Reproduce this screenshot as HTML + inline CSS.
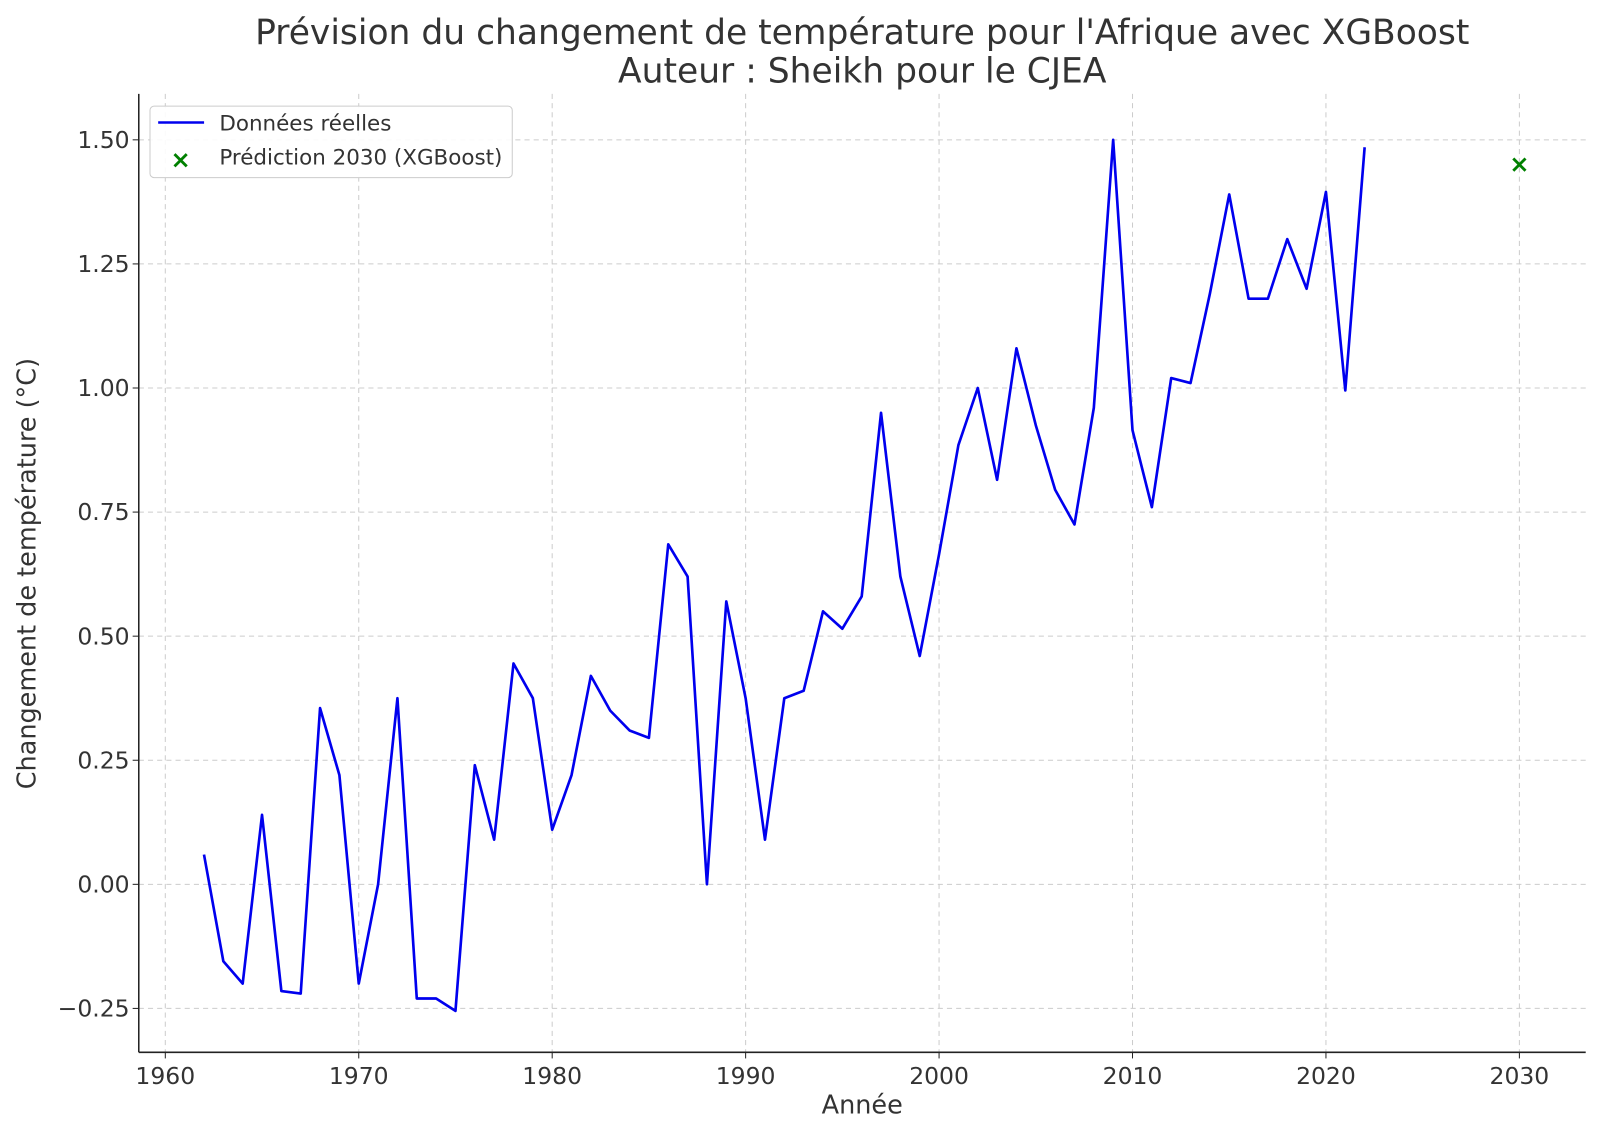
<!DOCTYPE html>
<html><head><meta charset="utf-8"><style>
body{margin:0;background:#fff}
svg{display:block;font-family:"DejaVu Sans","Liberation Sans",sans-serif}
</style></head><body>
<svg id="chart" width="1600" height="1136" viewBox="0 0 1568 1113" preserveAspectRatio="none" xmlns="http://www.w3.org/2000/svg">
<rect width="1568" height="1113" fill="#fff"/>
<text x="845" y="43" text-anchor="middle" font-size="33.8" fill="#333">Prévision du changement de température pour l'Afrique avec XGBoost</text>
<text x="845" y="81" text-anchor="middle" font-size="33.8" fill="#333">Auteur : Sheikh pour le CJEA</text>
<g id="grid"></g>
<g id="ticks"></g>
<line x1="136" y1="1031" x2="1554" y2="1031" stroke="#222" stroke-width="1.5"/>
<line x1="136" y1="92" x2="136" y2="1031" stroke="#222" stroke-width="1.5"/>
<g id="marks"></g>
<text x="845" y="1091" text-anchor="middle" font-size="25" fill="#333">Année</text>
<text transform="translate(35,562) rotate(-90)" text-anchor="middle" font-size="25" fill="#333">Changement de température (°C)</text>
<g>
<rect x="147" y="104" width="355" height="70" rx="4" fill="#fff" fill-opacity="0.9" stroke="#ccc"/>
<line x1="155" y1="120" x2="200" y2="120" stroke="#0000ee" stroke-width="2.5"/>
<text x="215" y="128" font-size="21" fill="#333">Données réelles</text>
<path d="M171,151L183,163M171,163L183,151" stroke="#008000" stroke-width="2.8"/>
<text x="215" y="161" font-size="21" fill="#333">Prédiction 2030 (XGBoost)</text>
</g>
</svg>
<script>
const years=[1962,1963,1964,1965,1966,1967,1968,1969,1970,1971,1972,1973,1974,1975,1976,1977,1978,1979,1980,1981,1982,1983,1984,1985,1986,1987,1988,1989,1990,1991,1992,1993,1994,1995,1996,1997,1998,1999,2000,2001,2002,2003,2004,2005,2006,2007,2008,2009,2010,2011,2012,2013,2014,2015,2016,2017,2018,2019,2020,2021,2022];
const temps=[0.06,-0.155,-0.2,0.14,-0.215,-0.22,0.355,0.22,-0.2,0.0,0.375,-0.23,-0.23,-0.255,0.24,0.09,0.445,0.375,0.11,0.22,0.42,0.35,0.31,0.295,0.685,0.62,0.0,0.57,0.375,0.09,0.375,0.39,0.55,0.515,0.58,0.95,0.62,0.46,0.665,0.885,1.0,0.815,1.08,0.925,0.795,0.725,0.96,1.5,0.915,0.76,1.02,1.01,1.19,1.39,1.18,1.18,1.3,1.2,1.395,0.995,1.485];
const predYear=[2030];
const predVal=[1.45];
const xTicks=[1960,1970,1980,1990,2000,2010,2020,2030];
const yTicks=[-0.25,0,0.25,0.5,0.75,1.0,1.25,1.5];
const yTickLabels=["\u22120.25","0.00","0.25","0.50","0.75","1.00","1.25","1.50"];
const X=v=>162+(v-1960)*(1327/70);
const Y=v=>988-(v+0.25)*(851/1.75);
const NS="http://www.w3.org/2000/svg";
function mk(t,a,p){const e=document.createElementNS(NS,t);for(const k in a)e.setAttribute(k,a[k]);p.appendChild(e);return e;}
const grid=document.getElementById('grid'),ticks=document.getElementById('ticks'),marks=document.getElementById('marks');
xTicks.forEach(t=>{
 const g=mk('line',{x1:X(t),x2:X(t),y1:92,y2:1031,stroke:'#ccc','stroke-dasharray':'5,4','stroke-width':1},grid);
 
 
 mk('line',{x1:X(t),x2:X(t),y1:1031,y2:1037,stroke:'#222'},ticks);
 const l=mk('text',{x:X(t),y:1062,'text-anchor':'middle','font-size':23,fill:'#333'},ticks);
 l.textContent=t;
 
 
});
yTicks.forEach((t,i)=>{
 const g=mk('line',{x1:136,x2:1554,y1:Y(t),y2:Y(t),stroke:'#ccc','stroke-dasharray':'5,4','stroke-width':1},grid);
 
 
 mk('line',{x1:130,x2:136,y1:Y(t),y2:Y(t),stroke:'#222'},ticks);
 const l=mk('text',{x:127,y:Y(t)+8,'text-anchor':'end','font-size':23,fill:'#333'},ticks);
 l.textContent=yTickLabels[i];
 
 
});
const line=mk('polyline',{points:years.map((y,i)=>X(y)+','+Y(temps[i])).join(' '),fill:'none',stroke:'#0000ee','stroke-width':2.6,'stroke-linejoin':'round'},marks);


predYear.forEach((y,i)=>{
 const cx=X(y),cy=Y(predVal[i]),s=6;
 const g=mk('path',{d:`M${cx-s},${cy-s}L${cx+s},${cy+s}M${cx-s},${cy+s}L${cx+s},${cy-s}`,stroke:'#008000','stroke-width':2.8},marks);
 
 
});
</script>
</body></html>
